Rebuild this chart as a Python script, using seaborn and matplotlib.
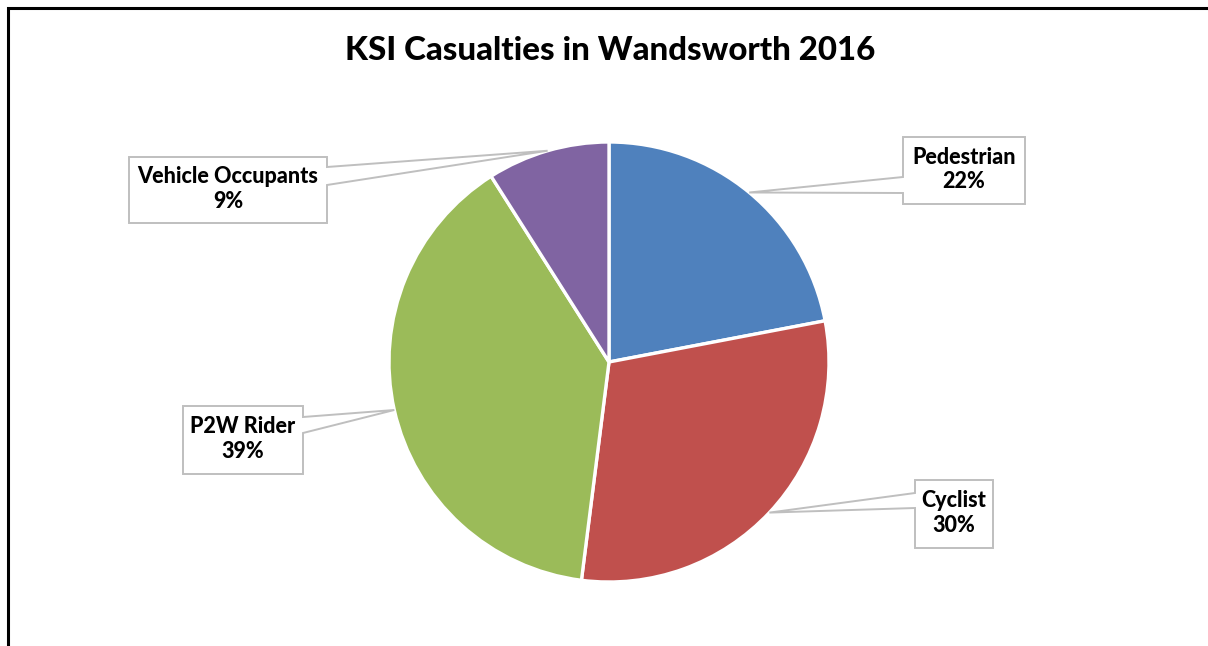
import matplotlib
matplotlib.use("Agg")
import matplotlib.pyplot as plt
from matplotlib.patches import Polygon, Rectangle
import numpy as np
import seaborn as sns

# KSI casualties by road-user group, Wandsworth 2016 (share, %)
categories = ["Pedestrian", "Cyclist", "P2W Rider", "Vehicle Occupants"]
shares = [22, 30, 39, 9]
colors = ["#4F81BD", "#C0504D", "#9BBB59", "#8064A2"]
title = "KSI Casualties in Wandsworth 2016"

sns.set_theme(style="white")
plt.rcParams["font.family"] = ["Lato", "DejaVu Sans"]

W, H = 1208, 646
fig = plt.figure(figsize=(W / 100, H / 100), dpi=100)
ax = fig.add_axes([0, 0, 1, 1])


def py(y_top):
    """Convert a distance from the top edge into data y."""
    return H - y_top


# pie, clockwise from 12 o'clock
center = (609, py(362))
radius = 220
wedges, _ = ax.pie(
    shares, colors=colors, startangle=90, counterclock=False,
    center=center, radius=radius, frame=True,
    wedgeprops=dict(edgecolor="white", linewidth=2.4),
)
ax.set_xlim(0, W)
ax.set_ylim(0, H)
ax.set_aspect("equal")
ax.axis("off")

# callout boxes: (left, top, right, bottom) in pixels from top-left, pointer side,
# and where the pointer leaves the box
boxes = {
    "Pedestrian": ((903, 137, 1025, 204), "left", (177, 193)),
    "Cyclist": ((915, 480, 993, 548), "left", (493, 508)),
    "P2W Rider": ((183, 406, 303, 474), "right", (417, 433)),
    "Vehicle Occupants": ((129, 157, 327, 223), "right", (167, 185)),
}

edge_gray = "#BFBFBF"
for w, name, share in zip(wedges, categories, shares):
    mid = np.deg2rad((w.theta1 + w.theta2) / 2)
    tip = (w.center[0] + w.r * np.cos(mid), w.center[1] + w.r * np.sin(mid))
    (l, t, r, b), side, (a1, a2) = boxes[name]
    if side == "left":
        verts = [(l, py(t)), (r, py(t)), (r, py(b)), (l, py(b)),
                 (l, py(a2)), tip, (l, py(a1))]
    else:
        verts = [(l, py(t)), (r, py(t)), (r, py(a1)), tip,
                 (r, py(a2)), (r, py(b)), (l, py(b))]
    ax.add_patch(Polygon(verts, closed=True, facecolor="white",
                         edgecolor=edge_gray, linewidth=1.4, zorder=5))
    ax.text((l + r) / 2, py((t + b) / 2 - 1), f"{name}\n{share}%",
            ha="center", va="center", fontsize=15.5, fontweight="black",
            color="black", linespacing=1.2, zorder=6)

ax.text(W / 2 + 6, py(50), title, ha="center", va="center",
        fontsize=23.8, fontweight="black", color="black")

# chart frame (only its top and left sides fall inside the canvas)
ax.add_patch(Rectangle((8, py(H + 40)), W + 40, H + 40 - 8, fill=False,
                       edgecolor="black", linewidth=2.2, clip_on=False))

fig.savefig("out.png", dpi=100, facecolor="white")
